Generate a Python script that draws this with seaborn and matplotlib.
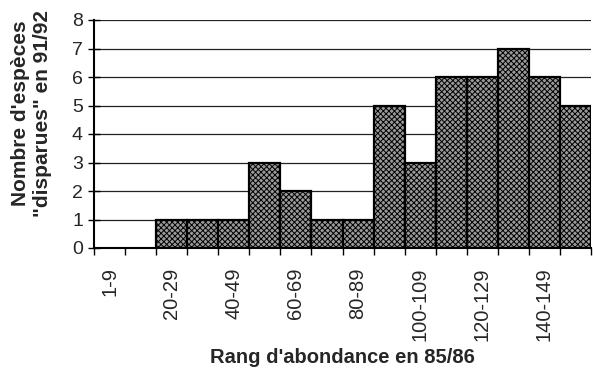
import matplotlib
matplotlib.use("Agg")
import matplotlib.pyplot as plt
import seaborn as sns
import pandas as pd
import numpy as np

categories = ["1-9", "10-19", "20-29", "30-39", "40-49", "50-59", "60-69", "70-79",
              "80-89", "90-99", "100-109", "110-119", "120-129", "130-139", "140-149", "150-159"]
values = [0, 0, 1, 1, 1, 3, 2, 1, 1, 5, 3, 6, 6, 7, 6, 5]
shown_labels = ["1-9", "20-29", "40-49", "60-69", "80-89", "100-109", "120-129", "140-149"]
y_ticks = [0, 1, 2, 3, 4, 5, 6, 7, 8]

sns.set_theme(style="white")
plt.rcParams['font.family'] = ['Liberation Sans', 'DejaVu Sans']
plt.rcParams['hatch.color'] = '#111111'
plt.rcParams['hatch.linewidth'] = 0.7

df = pd.DataFrame({"cat": categories, "val": values})

fig = plt.figure(figsize=(5.93, 3.80), dpi=100)
ax = fig.add_axes([94/593, 1-248/380, (591-94)/593, (248-20)/380])

sns.barplot(data=df, x="cat", y="val", ax=ax, width=1.0, color="#9a9a9a",
            edgecolor="black", linewidth=1.6, saturation=1)
for p, v in zip(ax.patches, values):
    p.set_hatch("xxxxxx")
    p.set_zorder(3)
    if v == 0:
        p.set_visible(False)

ax.set_xlim(-0.5, len(categories) - 0.5)
ax.set_ylim(0, 8)
ax.set_yticks(y_ticks)
ax.set_yticklabels([str(t) for t in y_ticks], fontsize=14)
ax.yaxis.grid(True, color="#222222", linewidth=0.9)
ax.set_axisbelow(True)

centers = [categories.index(c) for c in shown_labels]
ax.set_xticks(centers)
ax.set_xticklabels(shown_labels, rotation=90, fontsize=14.5)
ax.set_xticks(np.arange(-0.5, len(categories)), minor=True)
ax.tick_params(axis="x", which="major", length=0, pad=14)
ax.tick_params(axis="x", which="minor", length=5, width=1, color="black", direction="out", bottom=True)
ax.tick_params(axis="y", which="major", length=8, width=1, color="black", direction="inout", left=True, pad=4)

for s in ["top", "right"]:
    ax.spines[s].set_visible(False)
for s in ["left", "bottom"]:
    ax.spines[s].set_color("black")
    ax.spines[s].set_linewidth(1.5)

ax.set_xlabel("Rang d'abondance en 85/86", fontsize=14.5, fontweight="bold", labelpad=5)
ax.set_ylabel("Nombre d'espèces\n\"disparues\" en 91/92", fontsize=15, fontweight="bold")
ax.yaxis.set_label_coords(-0.085, 0.59)

fig.savefig("out.png", dpi=100, facecolor="white")
